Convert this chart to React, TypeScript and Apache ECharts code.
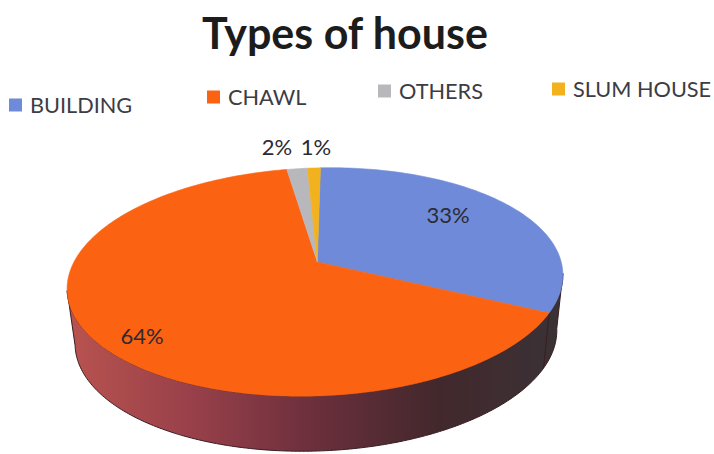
import React, { useEffect, useRef } from "react";
import * as echarts from "echarts";

const titleText = "Types of house";
const categories = ["BUILDING", "CHAWL", "OTHERS", "SLUM HOUSE"];
const shares = [33, 64, 1.6, 1];
const sliceColors = ["#6f8ad8", "#fb6212", "#b8b8bc", "#f2b21e"];
const legendSpots = [
  { left: 9, top: 94 },
  { left: 207, top: 86 },
  { left: 378, top: 80 },
  { left: 552, top: 78 },
];
const labelSpots = [
  [448, 214],
  [142, 335],
  [277, 146],
  [316, 146],
];

const FONT = "Lato, Carlito, 'Noto Sans', sans-serif";
const TILT = (-2 * Math.PI) / 180;
const SKEW_DEG = 1.8;
const top = { cx: 315, cy: 282, rx: 248, ry: 114 };
const bottom = { cx: 314, cy: 337, rx: 241, ry: 114 };
const apex = { x: 318, y: 262 };

type Pt = [number, number];

function turn(p: Pt): Pt {
  const dx = p[0] - top.cx;
  const dy = p[1] - top.cy;
  return [
    top.cx + dx * Math.cos(TILT) - dy * Math.sin(TILT),
    top.cy + dx * Math.sin(TILT) + dy * Math.cos(TILT),
  ];
}

function onEllipse(e: typeof top, t: number): Pt {
  return turn([e.cx + e.rx * Math.cos(t), e.cy + e.ry * Math.sin(t)]);
}

// Share boundary (degrees clockwise from 12 o'clock) to the ellipse parameter,
// casting the ray from the off-centre apex to imitate the perspective.
function paramOf(deg: number): number {
  const raw = (deg * Math.PI) / 180;
  const a = raw + (SKEW_DEG * Math.PI * Math.max(0, Math.cos(raw))) / 180;
  const ux = Math.sin(a);
  const uy = -Math.cos(a);
  const px = (apex.x - top.cx) / top.rx;
  const py = (apex.y - top.cy) / top.ry;
  const b = px * ux + py * uy;
  const c = px * px + py * py - 1;
  const s = -b + Math.sqrt(b * b - c);
  return Math.atan2(py + s * uy, px + s * ux);
}

function arc(e: typeof top, t1: number, t2: number): Pt[] {
  const out: Pt[] = [];
  const n = Math.max(2, Math.ceil(Math.abs(t2 - t1) * 60));
  for (let i = 0; i <= n; i++) out.push(onEllipse(e, t1 + ((t2 - t1) * i) / n));
  return out;
}

const sideFill = {
  type: "linear",
  global: true,
  x: 70,
  y: 0,
  x2: 560,
  y2: 0,
  colorStops: [
    { offset: 0, color: "#b8534f" },
    { offset: 0.25, color: "#98404a" },
    { offset: 0.5, color: "#6b2f3c" },
    { offset: 0.75, color: "#42282c" },
    { offset: 1, color: "#3a3236" },
  ],
};

function makeRender(index: number) {
  return (_params: any, api: any) => {
    const total = shares.reduce((a, b) => a + b, 0);
    const before = shares.slice(0, index).reduce((a, b) => a + b, 0);
    const value = api.value(0);
    let t1 = paramOf((before / total) * 360);
    let t2 = paramOf(((before + value) / total) * 360);
    if (t1 > 0 && before === 0) t1 -= 2 * Math.PI;
    while (t2 <= t1) t2 += 2 * Math.PI;

    const children: any[] = [];
    const s1 = Math.max(t1, 0);
    const s2 = Math.min(t2, Math.PI);
    if (s2 > s1) {
      const upper = arc(top, s1, s2);
      const lower = arc(bottom, s1, s2).reverse();
      children.push({
        type: "polygon",
        shape: { points: [...upper, ...lower] },
        style: { fill: sideFill, stroke: "#3a1d22", lineWidth: 1 },
      });
    }
    children.push({
      type: "polygon",
      shape: { points: [turn([apex.x, apex.y]), ...arc(top, t1, t2)] },
      style: { fill: sliceColors[index], stroke: sliceColors[index], lineWidth: 0.6 },
    });
    children.push({
      type: "text",
      style: {
        text: `${Math.round(value)}%`,
        x: labelSpots[index][0],
        y: labelSpots[index][1],
        fill: "#2b2b33",
        fontSize: 22,
        fontFamily: FONT,
        align: "center",
        verticalAlign: "middle",
      },
    });
    return { type: "group", children };
  };
}

export default function App() {
  const ref = useRef<HTMLDivElement>(null);
  useEffect(() => {
    document.body.style.margin = "0";
    const chart = echarts.init(ref.current!, undefined, { renderer: "svg" });
    chart.setOption({
      animation: false,
      backgroundColor: "#ffffff",
      title: {
        text: titleText,
        left: 340,
        top: 6,
        textAlign: "center",
        textStyle: { color: "#1c1c1c", fontSize: 43, fontWeight: "bold", fontFamily: FONT },
      },
      legend: categories.map((name, i) => ({
        data: [name],
        left: legendSpots[i].left,
        top: legendSpots[i].top,
        orient: "horizontal",
        icon: "rect",
        itemWidth: 13,
        itemHeight: 13,
        itemGap: 0,
        selectedMode: false,
        padding: 0,
        textStyle: { color: "#3c3c44", fontSize: 21.7, fontFamily: FONT, padding: [0, 0, 5, 3] },
      })),
      series: categories.map((name, i) => ({
        type: "custom",
        name,
        coordinateSystem: "none",
        itemStyle: { color: sliceColors[i] },
        data: [shares[i]],
        renderItem: makeRender(i),
      })),
    });
    return () => chart.dispose();
  }, []);
  return <div ref={ref} style={{ width: 714, height: 454 }} />;
}
